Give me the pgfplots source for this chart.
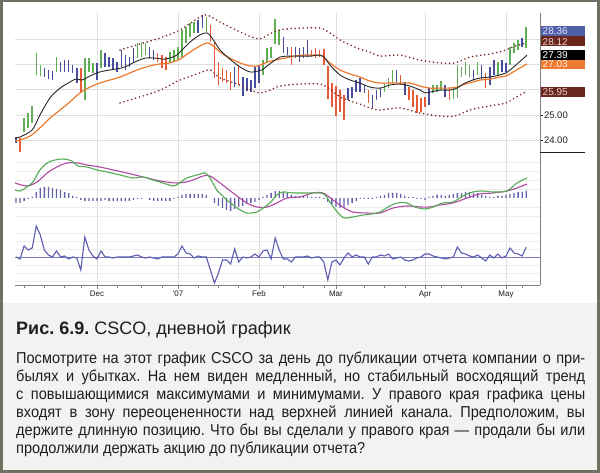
\documentclass[border=0pt]{standalone}
\usepackage{fontspec}
\setmainfont{Liberation Sans}
\newfontfamily\bodyfont[FakeStretch=0.92]{Liberation Sans}
\usepackage{pgfplots}
\usepackage{pgfplotstable}
\pgfplotsset{compat=1.18}
\definecolor{frame}{RGB}{112,112,98}
\definecolor{capbg}{RGB}{242,242,240}
\definecolor{barG}{RGB}{98,174,86}
\definecolor{barB}{RGB}{72,76,156}
\definecolor{barR}{RGB}{230,90,58}
\definecolor{emaK}{RGB}{40,40,40}
\definecolor{emaO}{RGB}{240,120,44}
\definecolor{chan}{RGB}{130,40,36}
\definecolor{macdG}{RGB}{84,172,84}
\definecolor{macdM}{RGB}{176,72,160}
\definecolor{hist}{RGB}{96,96,172}
\definecolor{force}{RGB}{92,92,178}
\definecolor{gridc}{RGB}{222,222,222}
\definecolor{gridl}{RGB}{236,236,236}
\definecolor{axc}{RGB}{128,128,128}
\definecolor{boxB}{RGB}{80,96,168}
\definecolor{boxD}{RGB}{104,38,28}
\definecolor{boxO}{RGB}{240,122,50}
\definecolor{txt}{RGB}{30,30,30}

% price bars: i low high
\pgfplotstableread{
i lo hi
2 24.32 24.87
3 24.48 25.07
4 24.67 25.35
5 26.58 27.45
6 26.54 26.98
10 26.70 27.29
17 25.59 27.25
18 26.70 27.25
19 26.66 27.06
21 26.86 27.57
30 27.25 27.85
31 27.29 27.89
32 27.37 27.85
38 27.06 27.49
39 27.10 27.57
40 27.17 27.69
41 27.29 28.37
42 27.85 28.48
43 28.09 28.64
44 28.25 28.68
47 28.29 28.88
61 26.58 27.17
62 27.10 27.65
63 27.25 27.69
64 27.81 28.80
65 27.77 28.37
91 25.90 26.26
92 26.06 26.46
93 26.26 26.78
103 25.87 26.18
104 25.90 26.18
105 25.98 26.34
108 25.63 26.06
109 25.67 26.98
110 26.50 26.90
111 26.58 27.10
112 26.50 26.98
114 26.58 27.10
119 26.58 27.10
122 26.98 27.69
123 27.45 27.85
124 27.57 27.97
126 27.65 28.48
}\barsG
\pgfplotstableread{
i lo hi
0 23.88 24.12
7 26.50 26.86
8 26.42 26.78
9 26.38 26.74
11 26.70 27.10
12 26.70 27.17
13 26.70 27.17
14 26.66 26.98
15 26.26 26.86
20 26.38 27.06
22 26.90 27.45
23 26.90 27.29
24 26.78 27.25
25 26.70 27.10
26 26.90 27.57
27 26.78 27.37
28 26.90 27.29
29 27.10 27.65
33 27.25 27.69
34 27.17 27.57
45 28.25 28.76
46 28.44 28.96
54 26.10 26.90
56 25.75 26.50
57 25.94 26.46
58 25.90 26.38
59 26.06 26.90
60 26.26 26.98
66 27.45 28.09
67 27.37 27.69
69 27.25 27.69
70 27.10 27.65
71 27.25 27.69
72 27.29 27.97
82 25.59 26.06
83 25.67 26.10
84 25.90 26.38
85 25.90 26.46
86 25.87 26.18
88 25.27 25.79
89 25.59 25.98
90 25.71 26.06
94 26.30 26.78
96 25.79 26.30
102 25.39 26.06
106 25.71 26.18
113 26.38 26.78
115 26.38 26.98
117 26.18 26.90
118 26.58 27.17
120 26.70 27.17
121 26.70 27.06
125 27.69 28.05
}\barsB
\pgfplotstableread{
i lo hi
1 23.52 24.08
16 25.87 26.86
35 27.10 27.45
36 26.86 27.37
37 26.78 27.29
48 27.89 28.56
49 26.46 27.89
50 26.18 27.10
51 26.30 26.86
52 26.26 26.78
53 25.98 26.70
55 26.18 26.94
68 26.98 27.69
73 27.29 27.57
74 27.25 27.65
75 27.29 27.57
76 26.98 27.61
77 25.63 26.94
78 25.31 26.26
79 24.97 26.14
80 25.11 25.98
81 24.79 25.79
87 25.47 25.98
95 26.18 26.58
97 25.59 26.10
98 25.31 25.98
99 25.07 25.79
100 25.11 25.67
101 25.31 25.71
107 25.59 26.10
116 26.06 26.66
}\barsR
% MACD histogram
\pgfplotstableread{
i v
0 -5
1 -5
2 -3
3 -1
4 1
5 6
6 10
7 11
8 11
9 10
10 9
11 8
12 6
13 5
14 2
15 1
16 -2
17 -3
18 -3
19 -3
20 -3
21 -3
22 -2
23 -3
24 -3
25 -3
26 -3
27 -3
28 -3
29 -2
30 -1
31 -1
33 -2
34 -3
35 -3
36 -3
37 -3
38 -3
39 -1
40 1
41 3
42 4
43 4
44 4
45 4
46 4
47 3
49 -5
50 -8
51 -10
52 -12
53 -13
54 -11
55 -9
56 -8
57 -6
58 -5
59 -4
60 -2
61 1
62 3
63 5
64 7
65 7
66 6
67 5
68 3
69 2
70 2
71 2
72 2
73 1
74 1
75 1
76 -1
77 -4
78 -6
79 -9
80 -10
81 -9
82 -7
83 -5
84 -3
85 -1
86 -1
87 -1
88 -1
89 1
90 2
91 3
92 5
93 5
94 5
95 4
96 2
97 1
98 1
99 -1
100 -1
101 -2
102 1
103 2
104 3
105 3
106 2
107 3
108 4
109 5
110 5
111 6
112 6
113 5
114 5
115 3
116 2
117 1
118 1
119 2
120 2
121 3
122 4
123 5
124 6
125 6
126 7
}\histT

\pgfplotsset{ohlc/.style={#1, line width=1.5pt, quiver={u=0, v=\thisrow{hi}-\thisrow{lo}}}}

\begin{document}
\frenchspacing
\begin{tikzpicture}[x=1pt,y=1pt]
\useasboundingbox (0,0) rectangle (600,473);
\fill[frame] (0,0) rectangle (600,473);
\fill[white] (3,3) rectangle (597,470.5);
\fill[capbg] (3,3) rectangle (597,170);

% ---------- price panel ----------
\begin{axis}[at={(15pt,321pt)}, anchor=south west, scale only axis,
  width=525pt, height=139pt,
  xmin=-0.25, xmax=129.4, ymin=23.524, ymax=29.04,
  axis line style={draw=none},
  xtick={20,40,60,79,101,121}, xticklabels={},
  ytick={24,25,26,27,28}, yticklabels={24.00,25.00,,,},
  ytick pos=right, yticklabel pos=right,
  xmajorgrids, ymajorgrids, grid style={gridc, line width=0.5pt},
  xtick style={draw=none},
  ytick style={draw=txt, line width=0.5pt},
  tick align=outside, major tick length=3pt,
  yticklabel style={font=\fontsize{9.5}{10}\selectfont, text=txt, xshift=-2.5pt}]
\addplot[ohlc=barG] table[x=i, y=lo] {\barsG};
\addplot[ohlc=barB] table[x=i, y=lo] {\barsB};
\addplot[ohlc=barR] table[x=i, y=lo] {\barsR};
% channel
\addplot[chan, line width=1.8pt, line cap=round, dash pattern=on 0pt off 4.05pt, smooth] coordinates {
(25.7,27.57) (30.6,27.81) (35.6,28.05) (40.5,28.37) (45.4,28.88) (47.2,28.96) (50.4,28.68)
(55.3,28.29) (59.8,28.01) (62.7,28.21) (65.2,28.37) (70.1,28.44) (75.1,28.44) (77.5,28.25)
(80.0,27.97) (82.5,27.77) (84.9,27.61) (87.4,27.49) (89.9,27.33) (94.8,27.37) (99.8,27.17)
(104.7,27.06) (108.4,27.06) (112.1,27.29) (117.0,27.41) (121.0,27.57) (123.2,27.73) (126.2,27.85)};
\addplot[chan, line width=1.8pt, line cap=round, dash pattern=on 0pt off 4.05pt, smooth] coordinates {
(25.7,25.47) (30.6,25.71) (35.6,25.98) (40.5,26.38) (45.4,26.66) (47.9,26.78) (50.4,26.46)
(55.3,26.18) (59.8,25.87) (62.7,25.98) (65.2,26.14) (70.1,26.22) (75.1,26.22) (77.5,26.02)
(80.0,25.71) (82.5,25.55) (84.9,25.43) (87.4,25.27) (89.9,25.19) (94.8,25.27) (99.8,25.07)
(104.7,24.95) (108.4,24.95) (112.1,25.19) (117.0,25.35) (121.0,25.47) (123.2,25.67) (126.2,25.94)};
% slow EMA
\addplot[emaO, line width=1.2pt, smooth] coordinates {
(-0.25,23.96) (1,24.00) (3.5,24.16) (5.9,24.48) (8.4,24.87) (10.9,25.19) (13.3,25.51) (15.8,25.87)
(18.3,26.10) (20.7,26.26) (23.2,26.38) (25.7,26.50) (28.1,26.66) (30.6,26.82) (33.1,26.94)
(35.6,27.02) (38.0,27.06) (40.5,27.21) (43.0,27.49) (45.4,27.73) (47.2,27.85) (48.4,27.77)
(50.4,27.49) (52.8,27.25) (55.3,27.06) (57.8,26.94) (59.8,26.94) (61.5,27.06) (64.0,27.17)
(66.4,27.25) (68.9,27.33) (71.4,27.37) (73.8,27.37) (75.6,27.33) (77.5,27.06) (80.0,26.78)
(82.5,26.62) (84.9,26.50) (87.4,26.34) (89.9,26.26) (92.3,26.26) (94.8,26.26) (97.3,26.26)
(99.8,26.14) (102.2,26.06) (104.7,26.06) (107.2,26.06) (108.9,26.10) (110.9,26.22)
(112.8,26.30) (114.6,26.38) (117.0,26.42) (119.5,26.50) (121.0,26.54) (123.2,26.74) (126.2,27.02)};
% fast EMA
\addplot[emaK, line width=0.9pt, smooth] coordinates {
(-0.25,24.08) (1,24.12) (4,24.40) (5.9,24.99) (8.4,25.67) (10.9,26.06) (13.3,26.30) (14.8,26.42)
(16.3,26.38) (18.3,26.54) (20.7,26.70) (23.2,26.78) (24.9,26.82) (26.9,26.90) (29.4,27.10)
(31.9,27.25) (34.3,27.25) (36.8,27.21) (39.3,27.33) (40.5,27.49) (43.0,27.89) (45.4,28.17)
(47.2,28.25) (48.4,28.05) (50.4,27.57) (52.8,27.21) (55.3,26.90) (57.8,26.70) (59.8,26.74)
(60.7,26.78) (62.7,27.02) (65.2,27.29) (67.7,27.33) (70.1,27.33) (72.6,27.33) (75.1,27.37)
(76.3,27.25) (77.5,26.98) (80.0,26.58) (82.5,26.38) (84.9,26.26) (87.4,26.10) (89.9,26.06)
(92.3,26.18) (94.8,26.22) (97.3,26.14) (99.8,25.98) (101.0,25.87) (102.2,25.90) (104.7,25.98)
(107.2,25.98) (108.9,26.06) (110.9,26.26) (112.8,26.38) (114.6,26.46) (117.0,26.50)
(119.5,26.58) (121.0,26.66) (123.2,26.94) (126.2,27.37)};
\end{axis}

% ---------- MACD panel ----------
\begin{axis}[at={(15pt,248pt)}, anchor=south west, scale only axis,
  width=525pt, height=73pt,
  xmin=-0.25, xmax=129.4, ymin=-27, ymax=46,
  axis line style={draw=none},
  xtick={20,40,60,79,101,121}, xticklabels={},
  ytick={-18,-9,9,18,27,36}, yticklabels={},
  xmajorgrids, ymajorgrids, x grid style={gridc, line width=0.5pt}, y grid style={gridl, line width=0.5pt},
  major tick style={draw=none}]
\addplot[ybar, bar width=1.3pt, fill=hist, draw=none] table[x=i, y=v] {\histT};
\addplot[macdM, line width=1.1pt, smooth] coordinates {
(-0.25,15) (2.7,12) (5.2,16) (7.7,25) (10.1,31) (12.6,35) (15.1,35) (17.5,33) (20.7,31) (24,28)
(27.4,25) (31.4,21) (35.6,17) (39.8,15) (43,17) (46.2,22) (47.9,22) (50.4,15) (53.6,5) (57,-5)
(59.5,-9) (62,-9) (64.4,-5) (66.9,0) (70.1,1) (73.3,5) (75.8,5) (78.3,-2) (80.7,-9) (83.2,-14)
(86.7,-15) (89.9,-15) (93.1,-10) (96.5,-8) (99.8,-9) (102.2,-9) (104.7,-7) (107.9,-5) (111.4,0)
(114.6,4) (117.8,5) (121.2,7) (123.7,10) (126.2,14)};
\addplot[macdG, line width=1.1pt, smooth] coordinates {
(-0.25,8) (1,7) (2.7,11) (4.2,16) (5.9,28) (7.7,35) (9.6,38) (11.6,39) (13.8,37) (15.3,32)
(17.5,31) (20,28) (22.5,26) (25.7,23) (28.9,20) (31.4,21) (33.8,18) (36.3,15) (38.8,12) (40,14)
(42.2,20) (44.7,23) (46.7,25) (47.9,20) (49.6,8) (52.1,-2) (54.6,-10) (57,-15) (59.5,-14) (61,-10)
(62.7,-5) (64.4,3) (65.9,6) (68.4,5) (70.1,5) (72.6,5) (75.1,5) (76.3,3) (78,-7) (80,-17)
(81.2,-20) (83.2,-19) (85.7,-17) (87.9,-16) (89.9,-14) (91.9,-9) (94.1,-5) (96.5,-5) (98.5,-9)
(101,-11) (103,-9) (105.4,-5) (107.9,-4) (110.4,2) (112.8,6) (115.1,7) (117.8,6) (121.2,7)
(123.7,15) (126.2,20)};
\end{axis}

% ---------- force panel ----------
\begin{axis}[at={(15pt,188pt)}, anchor=south west, scale only axis,
  width=525pt, height=60pt,
  xmin=-0.25, xmax=129.4, ymin=-28, ymax=32,
  axis line style={draw=none},
  xtick={20,40,60,79,101,121}, xticklabels={Dec,'07,Feb,Mar,Apr,May},
  minor xtick={2,7,12,16,25,31,36,45,50,55,66,71,76,86,91,96,105,110,115,125},
  xtick pos=left, tick align=outside,
  major tick length=4pt, minor tick length=3pt,
  xtick style={draw=axc, line width=0.5pt},
  ytick={-24,-16,-8,8,16,24}, yticklabels={}, ytick style={draw=none},
  xmajorgrids, ymajorgrids, x grid style={gridc, line width=0.5pt}, y grid style={gridl, line width=0.5pt},
  xticklabel style={font=\fontsize{8}{9}\selectfont, text=txt, yshift=1.5pt}]
\draw[force!80, line width=0.6pt] (axis cs:-0.25,0) -- (axis cs:129.4,0);
\addplot[force, line width=1.1pt] coordinates {
(0,0) (1,-2) (2,11) (3,7) (4,9) (5,31) (6,22) (7,7) (8,2) (9,0) (10,6) (11,0) (12,1) (13,-2)
(14,0) (15,-1) (16,-13) (17,20) (18,7) (19,1) (20,-2) (21,6) (22,0) (23,0) (24,-1) (25,0) (26,0)
(27,0) (28,0) (29,1) (30,2) (31,0) (32,-1) (33,0) (34,-1) (35,-2) (36,0) (37,0) (38,0) (39,0)
(40,3) (41,11) (42,4) (43,3) (44,-1) (45,1) (46,0) (47,0) (48,-13) (49,-26) (50,-16) (51,-3)
(52,-3) (53,-7) (54,8) (55,-5) (56,0) (57,-1) (58,0) (59,3) (60,0) (61,6) (62,7) (63,-2) (64,19)
(65,7) (66,-2) (67,-2) (68,-5) (69,0) (70,0) (71,0) (72,1) (73,-1) (74,0) (75,0) (76,-5) (77,-23)
(78,-5) (79,-3) (80,-8) (81,-1) (82,4) (83,0) (84,2) (85,0) (86,0) (87,-7) (88,0) (89,0) (90,2)
(91,1) (92,3) (93,-2) (94,-1) (95,0) (96,-3) (97,-4) (98,-3) (99,-1) (100,0) (101,3) (102,3)
(103,1) (104,0) (105,-1) (106,-2) (107,-1) (108,0) (109,10) (110,4) (111,3) (112,1) (113,0)
(114,2) (115,-1) (116,-4) (117,2) (118,-1) (119,3) (120,-1) (121,1) (122,9) (123,4) (124,3)
(125,1) (126,10)};
\end{axis}

% axes frame lines
\draw[axc, line width=0.8pt] (540,188) -- (540,460);
\draw[axc, line width=0.8pt] (15,188) -- (540,188);
\draw[txt, line width=0.8pt] (540,321) -- (585,321);

% right price labels
\begin{scope}[every node/.style={anchor=west, inner sep=0pt, font=\fontsize{10}{11}\selectfont}]
\fill[boxD] (540.5,426.5) rectangle (585,436.5);
\node[text={rgb,255:red,235;green,205;blue,200}] at (542.5,431.3) {28.12};
\fill[boxB] (540.5,436.5) rectangle (585,446.5);
\node[text={rgb,255:red,225;green,228;blue,245}] at (542.5,441.5) {28.36};
\fill[black] (540.5,413) rectangle (585,422.5);
\node[text=white] at (542.5,417.8) {27.39};
\fill[boxO] (540.5,404) rectangle (585,413);
\node[text={rgb,255:red,255;green,240;blue,225}] at (542.5,408.5) {27.03};
\fill[boxD] (540.5,376) rectangle (585,385.5);
\node[text={rgb,255:red,235;green,205;blue,200}] at (542.5,380.8) {25.95};
\end{scope}

% caption
\node[anchor=base west, inner sep=0pt, text=txt] at (16,138)
  {\fontsize{18}{20}\selectfont\textbf{Рис. 6.9.} CSCO, дневной график};
\begin{scope}[every node/.style={anchor=base west, inner sep=0pt, text=txt, font=\bodyfont\fontsize{15.8}{18}\selectfont}]
\node at (16,109) {\makebox[569pt][s]{Посмотрите на этот график CSCO за день до публикации отчета компании о при-}};
\node at (16,91) {\makebox[569pt][s]{былях и убытках. На нем виден медленный, но стабильный восходящий тренд}};
\node at (16,73) {\makebox[569pt][s]{с повышающимися максимумами и минимумами. У правого края графика цены}};
\node at (16,55) {\makebox[569pt][s]{входят в зону переоцененности над верхней линией канала. Предположим, вы}};
\node at (16,37) {\makebox[569pt][s]{держите длинную позицию. Что бы вы сделали у правого края — продали бы или}};
\node at (16,19) {продолжили держать акцию до публикации отчета?};
\end{scope}
\end{tikzpicture}
\end{document}
